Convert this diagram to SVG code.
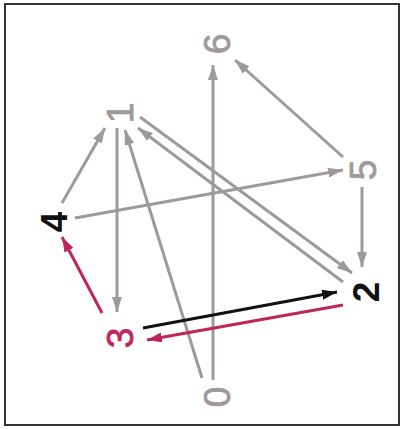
<svg xmlns="http://www.w3.org/2000/svg" width="404" height="429" viewBox="0 0 404 429">
<style>
.e{fill:none;stroke-width:3;stroke-linecap:butt}
.g{stroke:#9e999b}
.k{stroke:#111}
.r{stroke:#c0245c}
text{font-family:"Liberation Sans",Arial,sans-serif;font-size:37px;text-anchor:middle}
.lg{fill:#9e999b;stroke:#9e999b;stroke-width:0.8}
.lk{fill:#111;font-weight:bold}
.lr{fill:#c0245c;stroke:#c0245c;stroke-width:0.8}
</style>
<defs>
<marker id="ag" viewBox="0 0 15 10" refX="15" refY="5" markerWidth="15" markerHeight="10" markerUnits="userSpaceOnUse" orient="auto"><path d="M0,0 L15,5 L0,10 z" fill="#9e999b"/></marker>
<marker id="ak" viewBox="0 0 15 10" refX="15" refY="5" markerWidth="15" markerHeight="10" markerUnits="userSpaceOnUse" orient="auto"><path d="M0,0 L15,5 L0,10 z" fill="#111"/></marker>
<marker id="ar" viewBox="0 0 15 10" refX="15" refY="5" markerWidth="15" markerHeight="10" markerUnits="userSpaceOnUse" orient="auto"><path d="M0,0 L15,5 L0,10 z" fill="#c0245c"/></marker>
</defs>
<rect x="0" y="0" width="404" height="429" fill="#fff"/>
<rect x="5" y="4" width="394" height="421" fill="none" stroke="#333" stroke-width="2"/>
<g id="connectors">
<line class="e g" x1="213" y1="380" x2="213" y2="65" marker-end="url(#ag)"/>
<line class="e g" x1="202" y1="378" x2="125" y2="130" marker-end="url(#ag)"/>
<line class="e g" x1="343" y1="157" x2="235" y2="60" marker-end="url(#ag)"/>
<line class="e g" x1="62" y1="203" x2="105" y2="128" marker-end="url(#ag)"/>
<line class="e g" x1="75" y1="218" x2="343" y2="170" marker-end="url(#ag)"/>
<line class="e g" x1="117" y1="128" x2="117" y2="312" marker-end="url(#ag)"/>
<line class="e g" x1="140" y1="117" x2="352" y2="273" marker-end="url(#ag)"/>
<line class="e g" x1="343" y1="282" x2="138" y2="128" marker-end="url(#ag)"/>
<line class="e g" x1="362" y1="187" x2="362" y2="267" marker-end="url(#ag)"/>
<line class="e k" x1="143" y1="328" x2="337" y2="292" marker-end="url(#ak)"/>
<line class="e r" x1="343" y1="305" x2="147" y2="340" marker-end="url(#ar)"/>
<line class="e r" x1="102" y1="313" x2="62" y2="237" marker-end="url(#ar)"/>
</g>
<g id="node0"><text class="lg" transform="translate(217,397) rotate(-90)" dy="0.36em">0</text></g>
<g id="node1"><text class="lg" transform="translate(120,113) rotate(-90)" dy="0.36em">1</text></g>
<g id="node2"><text class="lk" transform="translate(366,292) rotate(-90)" dy="0.36em">2</text></g>
<g id="node3"><text class="lr" transform="translate(120,338) rotate(-90)" dy="0.36em">3</text></g>
<g id="node4"><text class="lk" transform="translate(54,222) rotate(-90)" dy="0.36em">4</text></g>
<g id="node5"><text class="lg" transform="translate(363,170) rotate(-90)" dy="0.36em">5</text></g>
<g id="node6"><text class="lg" transform="translate(217,44) rotate(-90)" dy="0.36em">6</text></g>
</svg>
